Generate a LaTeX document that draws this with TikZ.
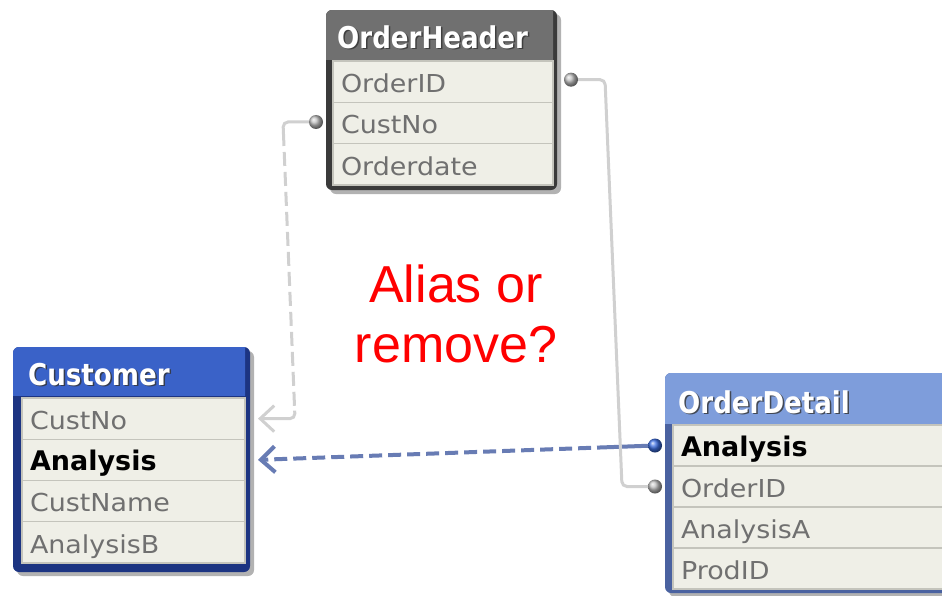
\documentclass[tikz,border=0pt]{standalone}
\usepackage{fontspec}
\usetikzlibrary{calc,arrows.meta}

\newfontfamily\qvrowfont{DejaVu Sans}[FakeStretch=1.09]
\newfontfamily\qvboldfont{DejaVu Sans}
\newfontfamily\qvtitlefont{DejaVu Sans}[FakeStretch=0.87]
\newfontfamily\notefont{Liberation Sans}

\definecolor{rowbg}{RGB}{239,239,231}
\definecolor{rowsep}{RGB}{196,196,188}
\definecolor{rowtext}{RGB}{112,112,112}
\definecolor{ohtitle}{RGB}{112,112,112}
\definecolor{ohborder}{RGB}{58,58,58}
\definecolor{cutitle}{RGB}{58,98,200}
\definecolor{cuborder}{RGB}{28,52,130}
\definecolor{odtitle}{RGB}{126,157,219}
\definecolor{odborder}{RGB}{74,98,160}
\definecolor{graylink}{RGB}{208,208,208}
\definecolor{bluelink}{RGB}{104,124,180}
\definecolor{bluedot}{RGB}{60,110,225}
\definecolor{graydot}{RGB}{190,190,190}
\definecolor{notered}{RGB}{255,0,0}

% table frame: #1 x0, #2 y0, #3 x1, #4 y1, #5 inner right x, #6 title bottom, #7 colour prefix
\newcommand\qvframe[7]{%
  \fill[black, opacity=.3, rounded corners=6pt] (#1+4,#2+4) rectangle (#3+4,#4+4);
  \fill[#7border, rounded corners=6pt] (#1,#2) rectangle (#3,#4);
  \begin{scope}
    \clip (#1,#2) rectangle (#5,#6);
    \fill[#7title, rounded corners=6pt] (#1,#2) rectangle (#3,#4);
  \end{scope}}

\tikzset{
  row/.style={draw=rowsep, line width=1.2pt, fill=rowbg, anchor=north west,
    outer sep=0pt, inner xsep=8pt, inner ysep=0pt, text height=21.6pt,
    text depth=0pt, align=left, text=rowtext,
    font=\qvrowfont\fontsize{24.7}{26}\selectfont},
  keyrow/.style={row, text=black, font=\qvboldfont\bfseries\fontsize{27}{28}\selectfont},
  qvtitle/.style={anchor=base west, inner sep=0pt, text=white,
    font=\qvtitlefont\bfseries\fontsize{30}{32}\selectfont},
  qvtitleshadow/.style={qvtitle, text=black!80, opacity=.8},
  gdot/.style={circle, inner sep=0pt, minimum size=14pt, shading=ball, ball color=graydot},
  bdot/.style={gdot, ball color=bluedot},
  glink/.style={draw=graylink, line width=3pt},
  gdash/.style={glink, dash pattern=on 14pt off 6pt},
  blink/.style={draw=bluelink, line width=4pt},
  bdash/.style={blink, dash pattern=on 13pt off 6pt},
  opentip/.style={-{Straight Barb[length=14pt,width=26pt]}},
  note/.style={anchor=base, inner sep=0pt, text=notered,
    font=\notefont\fontsize{52}{60}\selectfont}
}

\begin{document}
\begin{tikzpicture}[x=1pt,y=-1pt]
\useasboundingbox (0,0) rectangle (942,595);
\fill[white] (0,0) rectangle (942,595);
\begin{scope}
\clip (0,0) rectangle (942,595);

% OrderHeader table
\qvframe{326}{10}{557}{190}{553}{59}{oh}
\node[qvtitleshadow] at (338.5,49.5) {OrderHeader};
\node[qvtitle] (ohhead) at (337,48) {OrderHeader};
\node[row, text width=204pt, minimum height=41.33pt] (ohid) at (333,61) {OrderID};
\node[row, text width=204pt, minimum height=41.33pt] (ohcust) at (ohid.south west) {CustNo};
\node[row, text width=204pt, minimum height=41.33pt] (ohdate) at (ohcust.south west) {Orderdate};

% Customer table
\qvframe{13}{347}{250}{572}{245}{395}{cu}
\node[qvtitleshadow] at (29.5,386.5) {Customer};
\node[qvtitle] (cuhead) at (28,385) {Customer};
\node[row, text width=207pt, minimum height=41.25pt] (cucust) at (22,398) {CustNo};
\node[keyrow, text width=207pt, minimum height=41.25pt] (cuan) at (cucust.south west) {Analysis};
\node[row, text width=207pt, minimum height=41.25pt] (cuname) at (cuan.south west) {CustName};
\node[row, text width=207pt, minimum height=41.25pt] (cuanb) at (cuname.south west) {AnalysisB};

% OrderDetail table
\qvframe{665}{373}{965}{593}{960}{423}{od}
\node[qvtitleshadow] at (679.5,414.5) {OrderDetail};
\node[qvtitle] (odhead) at (678,413) {OrderDetail};
\node[keyrow, text width=271pt, minimum height=41pt] (odan) at (673,425) {Analysis};
\node[row, text width=271pt, minimum height=41pt] (odid) at (odan.south west) {OrderID};
\node[row, text width=271pt, minimum height=41pt] (odana) at (odid.south west) {AnalysisA};
\node[row, text width=271pt, minimum height=41pt] (odprod) at (odana.south west) {ProdID};

% link end points
\node[gdot] (ohcustdot) at ($(ohcust.west)+(-17,-1)$) {};
\node[gdot] (ohiddot) at ($(ohid.east)+(18,-2)$) {};
\node[bdot] (odandot) at ($(odan.west)+(-18,0)$) {};
\node[gdot] (odiddot) at ($(odid.west)+(-18,0)$) {};
\coordinate (cucusttip) at ($(cucust.east)+(13,0)$);
\coordinate (cuantip) at ($(cuan.east)+(13,0)$);

% CustNo link (loosely coupled, dashed grey)
\coordinate (a1) at ($(ohcustdot)+(-33,0)$);
\coordinate (a2) at ($(cucusttip)+(37,0)$);
\coordinate (a1b) at ($(a1)!10pt!(a2)$);
\coordinate (a2b) at ($(a2)!8pt!(a1)$);
\draw[glink, rounded corners=5pt] (ohcustdot) -- (a1) -- (a1b);
\draw[gdash] (a1b) -- (a2b);
\draw[glink, rounded corners=5pt, opentip] (a2b) -- (a2) -- (cucusttip);

% Analysis link (dashed blue)
\coordinate (b1) at ($(odandot)!45pt!(cuantip)$);
\draw[blink] (odandot) -- (b1);
\draw[bdash, opentip] (b1) -- (cuantip);

% OrderID link (solid grey)
\draw[glink, rounded corners=5pt] (ohiddot) -- ($(ohiddot)+(34,0)$)
  -- ($(odiddot)+(-33,0)$) -- (odiddot);

% question
\node[note] (q1) at (456,302) {Alias or};
\node[note] (q2) at (456,362) {remove?};
\end{scope}
\end{tikzpicture}
\end{document}
